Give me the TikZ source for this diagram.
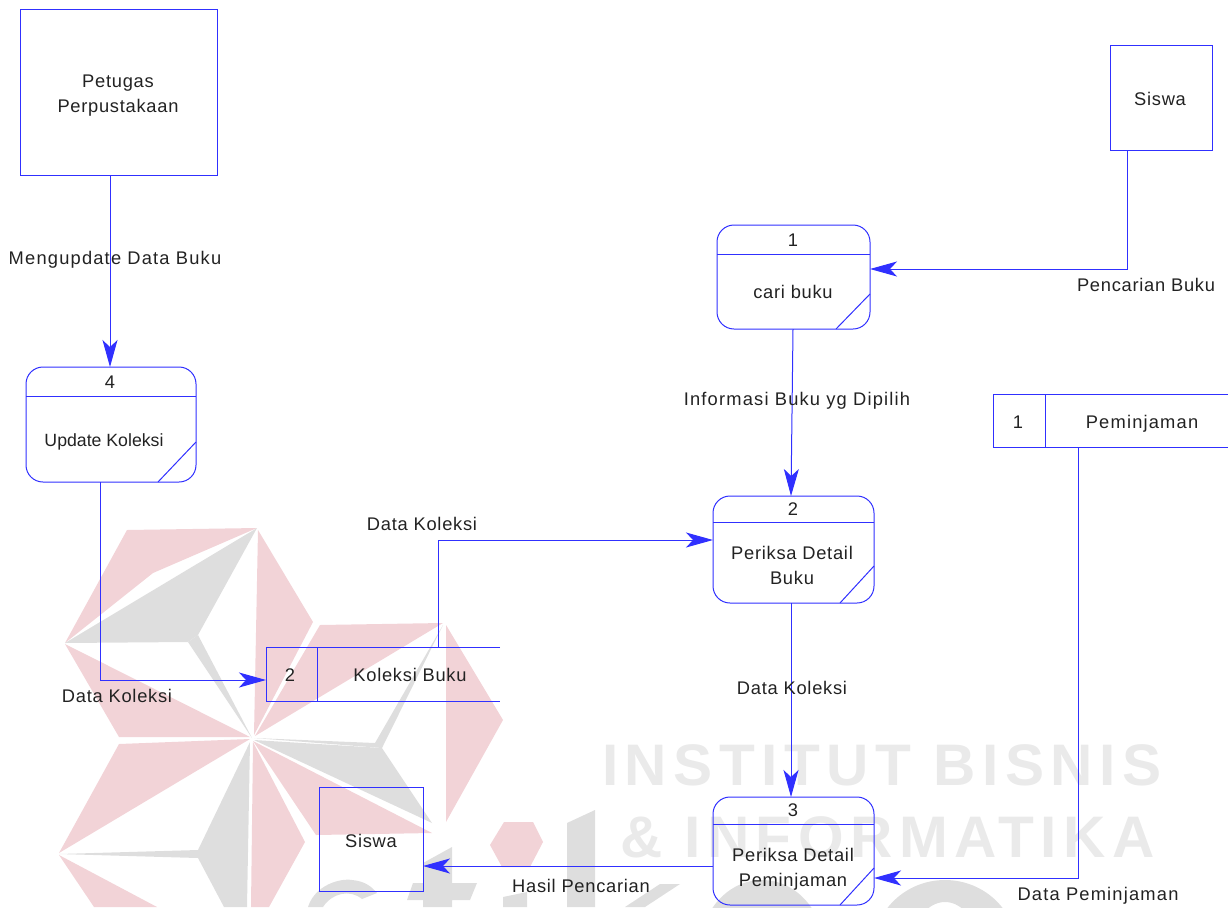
\documentclass[tikz,border=0pt]{standalone}
\usepackage{fontspec}
\setmainfont{Liberation Sans}
\newfontfamily\wmfont[LetterSpace=11]{Liberation Sans Bold}
\newfontfamily\lblfont[LetterSpace=4]{Liberation Sans}
\newfontfamily\lblwide[LetterSpace=6.5]{Liberation Sans}
\usetikzlibrary{arrows.meta}
\definecolor{dfdblue}{HTML}{3030FF}
\definecolor{wmpink}{HTML}{F2D3D7}
\definecolor{wmgrey}{HTML}{DEDEDE}
\definecolor{wmtext}{HTML}{EAEAEA}
\definecolor{txt}{HTML}{222222}
\tikzset{
  x=1pt,y=-1pt,
  shapeline/.style={draw=dfdblue,line width=1pt},
  boxnode/.style={shapeline,rectangle,inner sep=0pt,outer sep=0pt},
  procnode/.style={boxnode,rounded corners=17pt},
  lbl/.style={text=txt,inner sep=0pt,align=center,font=\lblfont\fontsize{18.3}{25}\selectfont},
  lblw/.style={lbl,font=\lblwide\fontsize{18.3}{25}\selectfont},
  lbln/.style={lbl,font=\rmfamily\fontsize{17.7}{25}\selectfont},
  flow/.style={draw=dfdblue,line width=1pt,-{Stealth[length=27pt,width=15pt,inset=7pt,fill=dfdblue]}},
  pk/.style={fill=wmpink,draw=none},
  gy/.style={fill=wmgrey,draw=none},
  wm/.style={text=wmtext,inner sep=0pt,anchor=base west,font=\wmfont\fontsize{58.6}{60}\selectfont},
}
\newcommand{\procbox}[8]{% name x1 y1 x2 y2 header slash-y slash-x
  \node[procnode,minimum width=#4pt-#2pt,minimum height=#5pt-#3pt] (#1) at ({(#2+#4)/2},{(#3+#5)/2}) {};
  \draw[shapeline] (#1.west|-0,#6) -- (#1.east|-0,#6);
  \draw[shapeline] (#1.east|-0,#7) -- (#8,#5);
}
\begin{document}
\begin{tikzpicture}
\useasboundingbox (0,0) rectangle (1230,907);
\begin{scope}
\clip (0,0) rectangle (1230,907);
% watermark emblem
\fill[pk] (127,530) -- (257,528) -- (153,573) -- (65,643) -- cycle;
\fill[gy] (257,528) -- (198,635) -- (188,642) -- (65,643) -- cycle;
\fill[gy] (198,635) -- (252,738) -- (188,642) -- cycle;
\fill[pk] (258,530) -- (313,622) -- (254,735) -- cycle;
\fill[pk] (65,644) -- (119,737) -- (250,737) -- cycle;
\fill[pk] (320,625) -- (443,623) -- (255,736) -- cycle;
\fill[gy] (443,625) -- (375,743) -- (254,738) -- (382,748) -- cycle;
\fill[gy] (254,740) -- (382,748) -- (432,823) -- cycle;
\fill[pk] (446,625) -- (503,720) -- (446,822) -- cycle;
\fill[pk] (253,741) -- (432,833) -- (316,835) -- cycle;
\fill[pk] (250,739) -- (119,744) -- (59,853) -- cycle;
\fill[gy] (250,742) -- (198,850) -- (198,858) -- (224,907) -- (247,907) -- cycle;
\fill[gy] (59,854) -- (198,850) -- (198,858) -- cycle;
\fill[pk] (253,742) -- (305,842) -- (269,907) -- (251,907) -- cycle;
\fill[pk] (59,855) -- (157,907) -- (94,907) -- cycle;
\fill[pk] (504,822) -- (533,822) -- (543,842) -- (530,867) -- (502,867) -- (490,845) -- cycle;
% watermark letters
\fill[gy] (308,907) .. controls (315,885) and (340,878) .. (352,880) .. controls (365,881) and (372,887) .. (377,893)
  -- (362,899) .. controls (350,889) and (332,893) .. (323,907) -- cycle;
\fill[gy] (423,863) -- (452,847) -- (452,883) -- (477,883) -- (470,900) -- (452,900) -- (452,907) -- (423,907) -- (423,900) -- (407,900) -- (413,883) -- (423,883) -- cycle;
\fill[gy] (503,897) -- (527,892) -- (527,907) -- (503,907) -- cycle;
\fill[gy] (567,823) -- (595,810) -- (595,907) -- (567,907) -- cycle;
\fill[gy] (625,907) -- (660,884) -- (680,884) -- (645,907) -- cycle;
\fill[gy,even odd rule] (762,950) ellipse [x radius=62,y radius=70] (762,950) ellipse [x radius=28,y radius=42];
\fill[gy,even odd rule] (945,950) ellipse [x radius=72,y radius=70] (945,950) ellipse [x radius=34,y radius=48];
\node[wm] (wmone) at (602,785) {INSTITUT BISNIS};
\node[wm] (wmtwo) at (620,857) {\&\hspace{22pt}INFORMATIKA};
\end{scope}
% external entities
\node[boxnode,minimum width=197pt,minimum height=165pt] (petugas) at (118.5,92.5) {};
\node[boxnode,minimum width=102pt,minimum height=104pt] (siswaA) at (1161,98) {};
\node[boxnode,minimum width=104pt,minimum height=104pt] (siswaB) at (371,839) {};
\node[lbl] (tpetugas) at (118,96) {Petugas\\Perpustakaan};
\node[lbl] (tsiswaA) at (1160,99) {Siswa};
\node[lbl] (tsiswaB) at (371,841) {Siswa};
% processes
\procbox{pa}{717}{225}{870}{329}{254}{294}{836}
\procbox{pb}{713}{496}{874}{603}{522}{566}{840}
\procbox{pc}{713}{797}{874}{905}{824}{868}{840}
\procbox{pd}{26}{367}{196}{482}{396}{442}{158}
\node[lbl] (na) at (793,240) {1};
\node[lbl] (ta) at (793,292) {cari buku};
\node[lbl] (nb) at (793,509) {2};
\node[lbl] (tb) at (792,565) {Periksa Detail\\Buku};
\node[lbl] (nc) at (793,810) {3};
\node[lbl] (tc) at (793,869) {Periksa Detail\\Peminjaman};
\node[lbl] (nd) at (110,382) {4};
\node[lbln] (td) at (104,442) {Update Koleksi};
% data stores
\node[inner sep=0pt,outer sep=0pt,minimum width=235pt,minimum height=53pt] (storeA) at (1110.5,420.5) {};
\node[inner sep=0pt,outer sep=0pt,minimum width=234pt,minimum height=54pt] (storeB) at (383,674) {};
\draw[shapeline] (storeA.north east) -- (storeA.north west) -- (storeA.south west) -- (storeA.south east);
\draw[shapeline] ([xshift=52pt]storeA.north west) -- ([xshift=52pt]storeA.south west);
\draw[shapeline] (storeB.north east) -- (storeB.north west) -- (storeB.south west) -- (storeB.south east);
\draw[shapeline] ([xshift=51pt]storeB.north west) -- ([xshift=51pt]storeB.south west);
\node[lbl] (nsa) at (1018,422) {1};
\node[lblw] (tsa) at (1142,424) {Peminjaman};
\node[lbl] (nsb) at (290,675) {2};
\node[lbl] (tsb) at (410,675) {Koleksi Buku};
% connectors
\draw[flow] ([xshift=-8.5pt]petugas.south) -- ([xshift=-1pt]pd.north);
\draw[flow] ([xshift=-11pt]pd.south) |- ([yshift=-6pt]storeB.west);
\draw[flow] ([xshift=55pt]storeB.north) |- ([yshift=9.5pt]pb.west);
\draw[flow] ([xshift=-34pt]siswaA.south) |- ([yshift=8pt]pa.east);
\draw[flow] ([xshift=-0.5pt]pa.south) -- ([xshift=-2.5pt]pb.north);
\draw[flow] ([xshift=-2.5pt]pb.south) -- ([xshift=-2.5pt]pc.north);
\draw[flow] ([yshift=-15pt]pc.west) -- ([yshift=-27pt]siswaB.east);
\draw[flow] ([xshift=-32.5pt]storeA.south) |- ([yshift=-27pt]pc.east);
% flow labels
\node[lblw] (f1) at (115,259.5) {Mengupdate Data Buku};
\node[lbl] (f2) at (1146,285) {Pencarian Buku};
\node[lblw] (f3) at (797,401) {Informasi Buku yg Dipilih};
\node[lbl] (f4) at (422,523.5) {Data Koleksi};
\node[lbl] (f5) at (117,696) {Data Koleksi};
\node[lbl] (f6) at (792,688) {Data Koleksi};
\node[lbl] (f7) at (581,886) {Hasil Pencarian};
\node[lblw] (f8) at (1098,896) {Data Peminjaman};
\end{tikzpicture}
\end{document}
